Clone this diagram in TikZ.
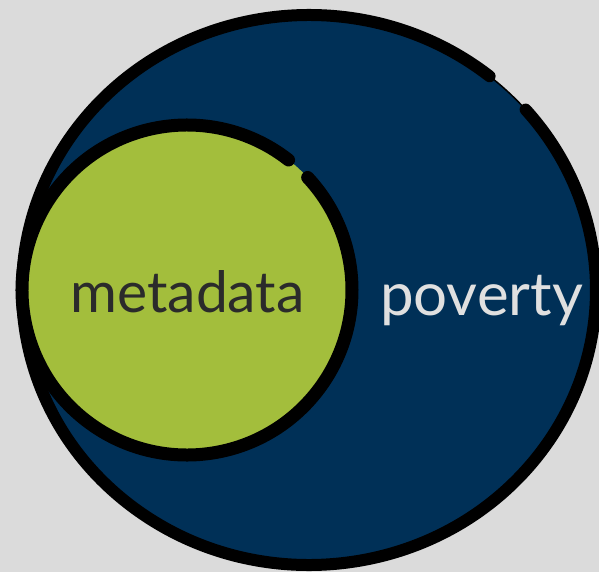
\documentclass[tikz,border=0pt]{standalone}
\usepackage{fontspec}
\setmainfont{Lato}
\definecolor{bg}{RGB}{219,219,219}
\definecolor{navy}{RGB}{0,48,87}
\definecolor{lime}{RGB}{163,190,60}
\definecolor{darktext}{RGB}{43,43,43}
\definecolor{lighttext}{RGB}{224,224,224}
\tikzset{
  outline/.style={draw=black, line cap=round},
  label/.style={anchor=base, inner sep=0pt},
}
\begin{document}
\begin{tikzpicture}[x=1pt,y=1pt]
\fill[bg] (0,0) rectangle (599,-572);
\useasboundingbox (0,0) rectangle (599,-572);
\coordinate (bigc) at (309,-290);
\coordinate (smallc) at (187,-290);
% big circle
\fill[navy] (bigc) ellipse[x radius=287, y radius=275];
\draw[outline, line width=1.5pt] (bigc) ellipse[x radius=287, y radius=275];
\draw[outline, line width=12pt] (bigc) ++(51:287 and 275)
  arc[start angle=51, end angle=401, x radius=287, y radius=275];
% small circle
\fill[lime] (smallc) circle[radius=165];
\draw[outline, line width=13pt] (smallc) ++(52:165)
  arc[start angle=52, end angle=403, radius=165];
% labels
\node[label, text=darktext, font=\fontsize{57}{60}\selectfont] (meta) at (187.5,-312) {metadata};
\node[label, text=lighttext, font=\fontsize{60}{62}\selectfont] (pov) at (481.5,-315) {poverty};
\end{tikzpicture}
\end{document}
